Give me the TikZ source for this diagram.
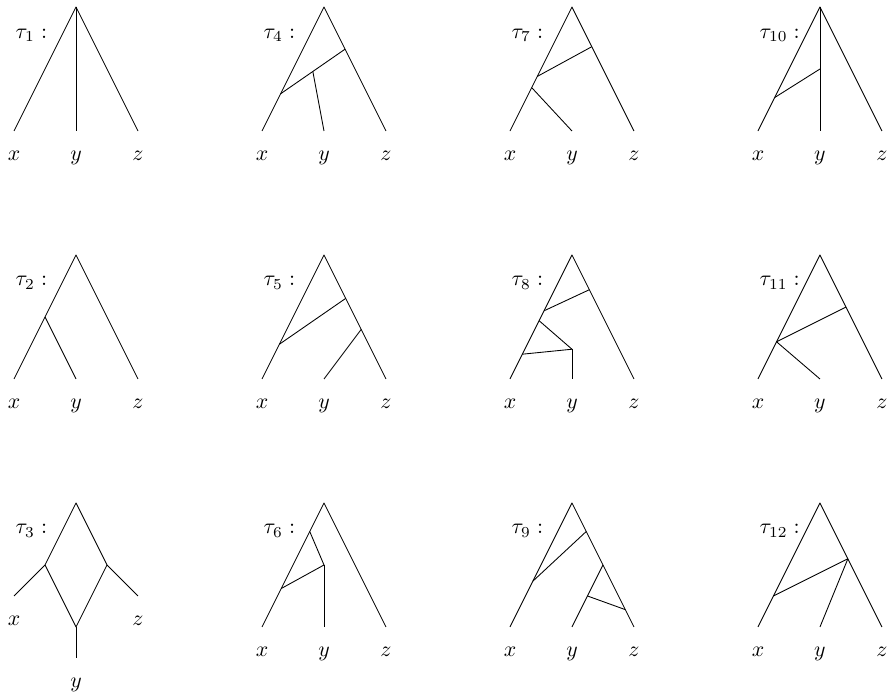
\documentclass[tikz,border=0pt]{standalone}
\usepackage{amsmath, amssymb}
\usetikzlibrary{calc}

\tikzset{
  leaflabel/.style={anchor=base, inner sep=0pt},
  treename/.style={anchor=base west, inner sep=0pt},
}

\begin{document}
\begin{tikzpicture}[line join=round]
    \useasboundingbox (-1.226,0.113) rectangle (13.194,-11.16);
    % tau_1
    \begin{scope}[shift={(0,0)}]
        \coordinate (r) at (0,0); \coordinate (x) at (-1,-2); \coordinate (y) at (0,-2); \coordinate (z) at (1,-2);
        \draw (x) -- (r) -- (z); \draw (r) -- (y);
        \node[treename] (t1) at (-0.98,-0.5) {$\tau_1:$};
        \foreach \l in {x,y,z} \node[leaflabel] (l\l) at ($(\l)+(0,-0.47)$) {$\l$};
    \end{scope}
    % tau_2
    \begin{scope}[shift={(0,-4)}]
        \coordinate (r) at (0,0); \coordinate (x) at (-1,-2); \coordinate (y) at (0,-2); \coordinate (z) at (1,-2);
        \draw (x) -- (r) -- (z);
        \coordinate (a) at ($(r)!0.5!(x)$); \draw (a) -- (y);
        \node[treename] (t2) at (-0.98,-0.5) {$\tau_2:$};
        \foreach \l in {x,y,z} \node[leaflabel] (l\l) at ($(\l)+(0,-0.47)$) {$\l$};
    \end{scope}
    % tau_3
    \begin{scope}[shift={(0,-8)}]
        \coordinate (r) at (0,0); \coordinate (x) at (-1,-1.5); \coordinate (y) at (0,-2.5); \coordinate (z) at (1,-1.5);
        \coordinate (a) at (-0.5,-1); \coordinate (b) at (0.5,-1); \coordinate (m) at (0,-2);
        \draw (x) -- (a) -- (r) -- (b) -- (z); \draw (a) -- (m) -- (b); \draw (m) -- (y);
        \node[treename] (t3) at (-0.98,-0.5) {$\tau_3:$};
        \foreach \l in {x,y,z} \node[leaflabel] (l\l) at ($(\l)+(0,-0.47)$) {$\l$};
    \end{scope}
    % tau_4
    \begin{scope}[shift={(4,0)}]
        \coordinate (r) at (0,0); \coordinate (x) at (-1,-2); \coordinate (y) at (0,-2); \coordinate (z) at (1,-2);
        \draw (x) -- (r) -- (z);
        \coordinate (a) at ($(r)!0.7!(x)$); \coordinate (b) at ($(r)!0.34!(z)$); \draw (a) -- (b);
        \coordinate (c) at ($(a)!0.5!(b)$); \draw (c) -- (y);
        \node[treename] (t4) at (-0.98,-0.5) {$\tau_4:$};
        \foreach \l in {x,y,z} \node[leaflabel] (l\l) at ($(\l)+(0,-0.47)$) {$\l$};
    \end{scope}
    % tau_5
    \begin{scope}[shift={(4,-4)}]
        \coordinate (r) at (0,0); \coordinate (x) at (-1,-2); \coordinate (y) at (0,-2); \coordinate (z) at (1,-2);
        \draw (x) -- (r) -- (z);
        \coordinate (a) at ($(r)!0.72!(x)$); \coordinate (b) at ($(r)!0.35!(z)$); \draw (a) -- (b);
        \coordinate (c) at ($(r)!0.6!(z)$); \draw (c) -- (y);
        \node[treename] (t5) at (-0.98,-0.5) {$\tau_5:$};
        \foreach \l in {x,y,z} \node[leaflabel] (l\l) at ($(\l)+(0,-0.47)$) {$\l$};
    \end{scope}
    % tau_6
    \begin{scope}[shift={(4,-8)}]
        \coordinate (r) at (0,0); \coordinate (x) at (-1,-2); \coordinate (y) at (0,-2); \coordinate (z) at (1,-2);
        \draw (x) -- (r) -- (z);
        \coordinate (a) at ($(r)!0.23!(x)$); \coordinate (b) at ($(r)!0.69!(x)$); \coordinate (m) at (0,-1);
        \draw (a) -- (m); \draw (b) -- (m); \draw (m) -- (y);
        \node[treename] (t6) at (-0.98,-0.5) {$\tau_6:$};
        \foreach \l in {x,y,z} \node[leaflabel] (l\l) at ($(\l)+(0,-0.47)$) {$\l$};
    \end{scope}
    % tau_7
    \begin{scope}[shift={(8,0)}]
        \coordinate (r) at (0,0); \coordinate (x) at (-1,-2); \coordinate (y) at (0,-2); \coordinate (z) at (1,-2);
        \draw (x) -- (r) -- (z);
        \coordinate (a) at ($(r)!0.56!(x)$); \coordinate (b) at ($(r)!0.32!(z)$); \draw (a) -- (b);
        \coordinate (c) at ($(r)!0.65!(x)$); \draw (c) -- (y);
        \node[treename] (t7) at (-0.98,-0.5) {$\tau_7:$};
        \foreach \l in {x,y,z} \node[leaflabel] (l\l) at ($(\l)+(0,-0.47)$) {$\l$};
    \end{scope}
    % tau_8
    \begin{scope}[shift={(8,-4)}]
        \coordinate (r) at (0,0); \coordinate (x) at (-1,-2); \coordinate (y) at (0,-2); \coordinate (z) at (1,-2);
        \draw (x) -- (r) -- (z);
        \coordinate (a) at ($(r)!0.45!(x)$); \coordinate (b) at ($(r)!0.28!(z)$); \draw (a) -- (b);
        \coordinate (c) at ($(r)!0.53!(x)$); \coordinate (d) at ($(r)!0.8!(x)$); \coordinate (m) at (0,-1.52);
        \draw (c) -- (m); \draw (d) -- (m); \draw (m) -- (y);
        \node[treename] (t8) at (-0.98,-0.5) {$\tau_8:$};
        \foreach \l in {x,y,z} \node[leaflabel] (l\l) at ($(\l)+(0,-0.47)$) {$\l$};
    \end{scope}
    % tau_9
    \begin{scope}[shift={(8,-8)}]
        \coordinate (r) at (0,0); \coordinate (x) at (-1,-2); \coordinate (y) at (0,-2); \coordinate (z) at (1,-2);
        \draw (x) -- (r) -- (z);
        \coordinate (a) at ($(r)!0.63!(x)$); \coordinate (b) at ($(r)!0.23!(z)$); \draw (a) -- (b);
        \coordinate (c) at ($(r)!0.5!(z)$); \draw (c) -- (y);
        \coordinate (d) at ($(c)!0.5!(y)$); \coordinate (e) at ($(r)!0.86!(z)$); \draw (d) -- (e);
        \node[treename] (t9) at (-0.98,-0.5) {$\tau_9:$};
        \foreach \l in {x,y,z} \node[leaflabel] (l\l) at ($(\l)+(0,-0.47)$) {$\l$};
    \end{scope}
    % tau_10
    \begin{scope}[shift={(12,0)}]
        \coordinate (r) at (0,0); \coordinate (x) at (-1,-2); \coordinate (y) at (0,-2); \coordinate (z) at (1,-2);
        \draw (x) -- (r) -- (z); \draw (r) -- (y);
        \coordinate (a) at ($(r)!0.73!(x)$); \coordinate (m) at (0,-1); \draw (a) -- (m);
        \node[treename] (t10) at (-0.98,-0.5) {$\tau_{10}:$};
        \foreach \l in {x,y,z} \node[leaflabel] (l\l) at ($(\l)+(0,-0.47)$) {$\l$};
    \end{scope}
    % tau_11
    \begin{scope}[shift={(12,-4)}]
        \coordinate (r) at (0,0); \coordinate (x) at (-1,-2); \coordinate (y) at (0,-2); \coordinate (z) at (1,-2);
        \draw (x) -- (r) -- (z);
        \coordinate (a) at ($(r)!0.7!(x)$); \coordinate (b) at ($(r)!0.42!(z)$); \draw (a) -- (b);
        \draw (a) -- (y);
        \node[treename] (t11) at (-0.98,-0.5) {$\tau_{11}:$};
        \foreach \l in {x,y,z} \node[leaflabel] (l\l) at ($(\l)+(0,-0.47)$) {$\l$};
    \end{scope}
    % tau_12
    \begin{scope}[shift={(12,-8)}]
        \coordinate (r) at (0,0); \coordinate (x) at (-1,-2); \coordinate (y) at (0,-2); \coordinate (z) at (1,-2);
        \draw (x) -- (r) -- (z);
        \coordinate (a) at ($(r)!0.75!(x)$); \coordinate (b) at ($(r)!0.45!(z)$); \draw (a) -- (b);
        \draw (b) -- (y);
        \node[treename] (t12) at (-0.98,-0.5) {$\tau_{12}:$};
        \foreach \l in {x,y,z} \node[leaflabel] (l\l) at ($(\l)+(0,-0.47)$) {$\l$};
    \end{scope}
\end{tikzpicture}
\end{document}
